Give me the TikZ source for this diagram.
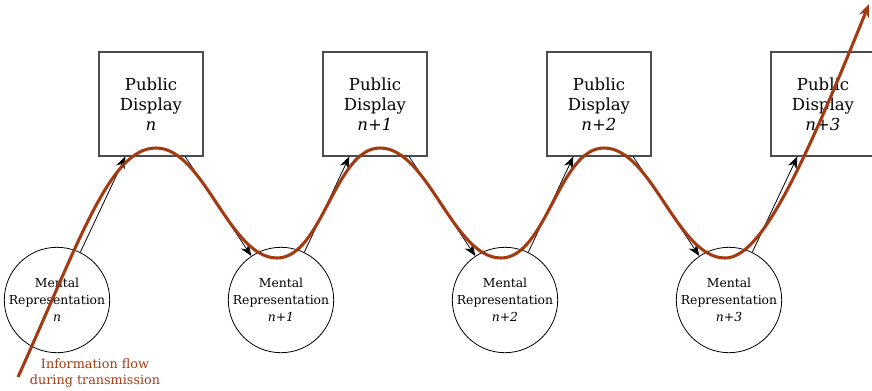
\documentclass[tikz,border=0pt]{standalone}
\usepackage{fontspec}
\setmainfont{DejaVu Serif}
\usetikzlibrary{arrows.meta}
\definecolor{brick}{RGB}{163,58,18}
\begin{document}
\begin{tikzpicture}[x=0.75pt,y=0.75pt,
  pbox/.style={draw=black!70,line width=0.8pt,minimum width=78pt,minimum height=78pt,inner sep=0pt,align=center,font=\fontsize{12.4}{15}\selectfont},
  mcirc/.style={draw=black,line width=0.6pt,circle,minimum size=78pt,inner sep=0pt,align=center,font=\fontsize{9.3}{12.6}\selectfont},
  conn/.style={line width=0.6pt,-{Stealth[length=9pt,width=7pt]}},
  flow/.style={brick,line width=2.3pt,-{Stealth[length=10pt,width=8pt]}},
  flowlabel/.style={text=brick,align=center,font=\fontsize{9.6}{12}\selectfont}]
\useasboundingbox (0,0) rectangle (872,390);
\clip (0,0) rectangle (872,390);
% public displays
\node[pbox] (b1) at (151,286) {Public\\Display\\\textit{n}};
\node[pbox] (b2) at (375,286) {Public\\Display\\\textit{n+1}};
\node[pbox] (b3) at (599,286) {Public\\Display\\\textit{n+2}};
\node[pbox] (b4) at (823,286) {Public\\Display\\\textit{n+3}};
% mental representations
\node[mcirc] (c1) at (57,90) {Mental\\Representation\\\textit{n}};
\node[mcirc] (c2) at (281,90) {Mental\\Representation\\\textit{n+1}};
\node[mcirc] (c3) at (505,90) {Mental\\Representation\\\textit{n+2}};
\node[mcirc] (c4) at (729,90) {Mental\\Representation\\\textit{n+3}};
% connectors
\draw[conn] (c1.64) -- (b1.-116.57);
\draw[conn] (b1.-57.6) -- (c2.124);
\draw[conn] (c2.64) -- (b2.-116.57);
\draw[conn] (b2.-57.6) -- (c3.124);
\draw[conn] (c3.64) -- (b3.-116.57);
\draw[conn] (b3.-57.6) -- (c4.124);
\draw[conn] (c4.64) -- (b4.-116.57);
% information flow
\coordinate (fs) at (18,13);
\coordinate (fe) at (869,386);
\draw[flow] (fs) .. controls (80,150) and (110,242) .. (156,242)
 .. controls (204,242) and (229,132) .. (277,132)
 .. controls (322,132) and (335,242) .. (380,242)
 .. controls (428,242) and (453,132) .. (501,132)
 .. controls (546,132) and (559,242) .. (604,242)
 .. controls (652,242) and (677,132) .. (725,132)
 .. controls (760,132) and (800,215) .. (fe);
\node[flowlabel] (lbl) at (95,17) {Information flow\\during transmission};
\end{tikzpicture}
\end{document}
